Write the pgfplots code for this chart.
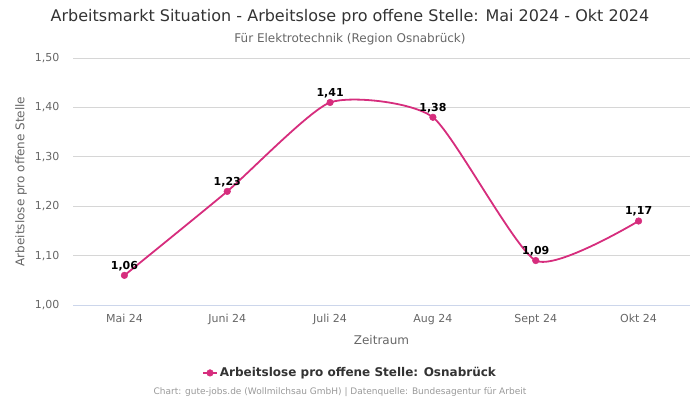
\documentclass[border=0pt]{standalone}
\usepackage{fontspec}
\setmainfont{DejaVu Sans}
\usepackage{pgfplots}
\pgfplotsset{compat=1.18}
\definecolor{cLine}{RGB}{214,45,125}
\definecolor{cGrid}{RGB}{214,214,214}
\definecolor{cBase}{RGB}{204,214,235}
\definecolor{cTick}{RGB}{102,102,102}
\definecolor{cTitle}{RGB}{51,51,51}
\definecolor{cFoot}{RGB}{153,153,153}

\begin{document}
\begin{tikzpicture}[x=1pt,y=1pt]
\path[use as bounding box] (0,0) rectangle (700,400);
% ===== titles =====
\node[font=\fontsize{16}{19}\selectfont, text=cTitle] at (350,383)
  {Arbeitsmarkt Situation - Arbeitslose pro offene Stelle: Mai 2024 - Okt 2024};
\node[font=\fontsize{12}{14}\selectfont, text=cTick] at (350,361)
  {Für Elektrotechnik (Region Osnabrück)};
\begin{axis}[
  at={(73pt,95pt)}, anchor=south west,
  scale only axis, width=617pt, height=247pt,
  xmin=-0.5, xmax=5.5, ymin=1, ymax=1.5,
  xtick={0,1,2,3,4,5},
  xticklabels={Mai 24,Juni 24,Juli 24,Aug 24,Sept 24,Okt 24},
  ytick={1,1.1,1.2,1.3,1.4,1.5},
  yticklabel style={/pgf/number format/fixed, /pgf/number format/fixed zerofill,
    /pgf/number format/precision=2, /pgf/number format/use comma,
    /pgf/number format/assume math mode=true},
  ymajorgrids, grid style={cGrid, line width=0.8pt},
  axis line style={draw=none}, major tick length=0pt,
  tick label style={font=\fontsize{11}{13}\selectfont, text=cTick},
  y tick label style={xshift=-10pt},
  x tick label style={yshift=-6pt},
  legend style={at={(0.449,-0.275)}, anchor=center, draw=none,
    font=\bfseries\fontsize{12}{14}\selectfont, text=cTitle},
  legend cell align=left,
  legend image code/.code={
    \draw[#1, line width=1.8pt] (0pt,0pt) -- (14pt,0pt);
    \draw[#1, mark size=3.3pt] plot coordinates {(7pt,0pt)};},
  clip=false,
]
\draw[cBase, line width=0.8pt] (axis cs:-0.5,1) -- (axis cs:5.5,1);
\addplot[cLine, line width=1.8pt, smooth, tension=0.35,
  mark=*, mark size=3.3pt, mark options={fill=cLine, draw=cLine, line width=0.5pt},
  point meta=explicit symbolic, nodes near coords,
  nodes near coords style={font=\bfseries\fontsize{11}{13}\selectfont,
    text=black, anchor=south, yshift=1pt}]
  coordinates {
  (0,1.06) [1,06]
  (1,1.23) [1,23]
  (2,1.41) [1,41]
  (3,1.38) [1,38]
  (4,1.09) [1,09]
  (5,1.17) [1,17]
};
\addlegendentry{Arbeitslose pro offene Stelle: Osnabrück}
\end{axis}
% ===== axis titles =====
\node[font=\fontsize{12}{14}\selectfont, text=cTick] at (381.5,60) {Zeitraum};
\node[font=\fontsize{12}{14}\selectfont, text=cTick, rotate=90] at (21,218.5)
  {Arbeitslose pro offene Stelle};
% ===== footer =====
\node[font=\fontsize{9}{11}\selectfont, text=cFoot] at (340,8)
  {Chart: gute-jobs.de (Wollmilchsau GmbH) | Datenquelle: Bundesagentur für Arbeit};
\end{tikzpicture}
\end{document}
